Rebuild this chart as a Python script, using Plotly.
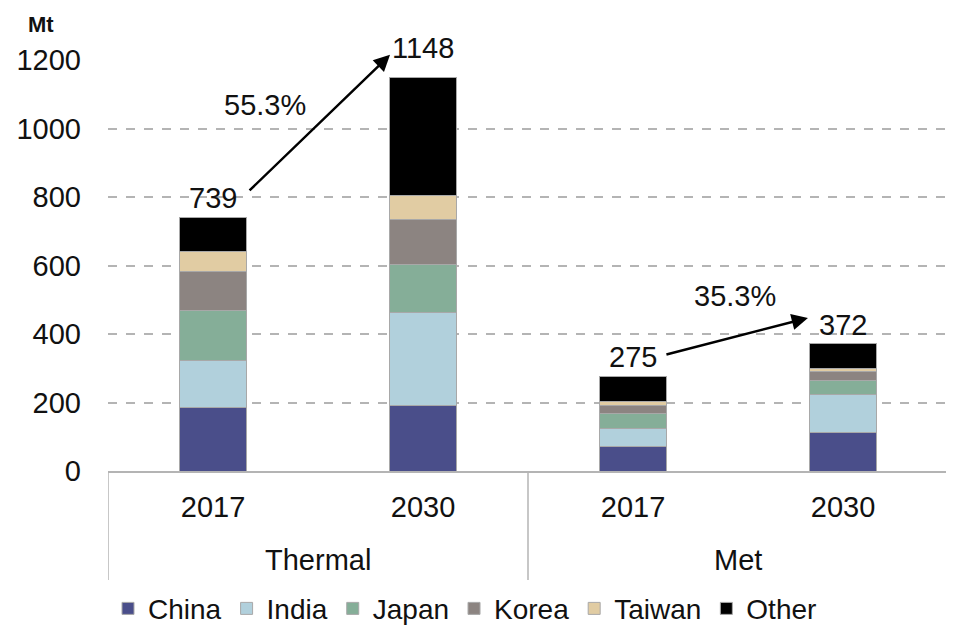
import plotly.graph_objects as go

# ---- data ----
years = ["2017", "2030", "2017", "2030"]
groups = ["Thermal", "Met"]
china = [184, 190, 72, 111]
india = [138, 272, 53, 113]
japan = [146, 140, 44, 40]
korea = [115, 131, 21, 26]
taiwan = [59, 70, 13, 8]
other = [97, 345, 72, 74]
totals = [739, 1148, 275, 372]
growth = ["55.3%", "35.3%"]
y_ticks = [0, 200, 400, 600, 800, 1000, 1200]

series = [
    ("China", china, "#4a4e8a"),
    ("India", india, "#b1d0dc"),
    ("Japan", japan, "#85ae98"),
    ("Korea", korea, "#8c8481"),
    ("Taiwan", taiwan, "#e1cca3"),
    ("Other", other, "#000000"),
]

xpos = list(range(len(years)))
FONT = "Arial, Liberation Sans, sans-serif"

fig = go.Figure()
for name, vals, col in series:
    fig.add_trace(go.Bar(
        x=xpos, y=vals, name=name, width=0.32,
        marker=dict(color=col, line=dict(color="#a8a8a8", width=1)),
    ))

fig.update_layout(
    barmode="stack",
    width=954, height=629,
    margin=dict(l=100, r=14, t=52, b=166, autoexpand=False),
    plot_bgcolor="white", paper_bgcolor="white",
    font=dict(family=FONT, size=29, color="#111111"),
    showlegend=True,
    legend=dict(orientation="h", x=0.0, xanchor="left", y=-0.335, yanchor="middle",
                font=dict(size=28, color="#111111"), itemwidth=30, tracegroupgap=0,
                traceorder="normal", borderwidth=0),
)

fig.update_yaxes(
    range=[0, 1200], tickvals=y_ticks, showgrid=True, gridcolor="#b4b4b4",
    griddash="dash", gridwidth=1.5, zeroline=False, showline=False, automargin=False,
    ticklabelstandoff=26, tickfont=dict(size=29),
)
fig.update_xaxes(
    range=[-0.5, 3.5], tickvals=xpos, ticktext=years, showgrid=False, automargin=False,
    showline=True, linecolor="#b4b4b4", linewidth=1.5, zeroline=False,
    ticks="", ticklabelstandoff=9, tickfont=dict(size=29),
)

# category box lines
for xb in [-0.5, 1.5, 3.5]:
    fig.add_shape(type="line", xref="x", yref="paper", x0=xb, x1=xb, y0=0, y1=-0.265,
                  line=dict(color="#b4b4b4", width=1.5))

# group labels
for gi, g in enumerate(groups):
    fig.add_annotation(x=gi * 2 + 0.5, y=-0.2165, xref="x", yref="paper", text=g,
                       showarrow=False, font=dict(size=29), yanchor="middle")

# totals
shifts = [20, 30, 20, 19]
for i, t in enumerate(totals):
    fig.add_annotation(x=xpos[i], y=t, text=str(t), showarrow=False, yanchor="middle",
                       yshift=shifts[i], font=dict(size=29))

# arrows
arrows = [((0.167, 815), (0.843, 1215)), ((2.152, 339), (2.833, 447))]
for (tx, ty), (hx, hy) in arrows:
    fig.add_annotation(x=hx, y=hy, ax=tx, ay=ty, xref="x", yref="y", axref="x", ayref="y",
                       text="", showarrow=True, arrowhead=2, arrowsize=1.3, arrowwidth=2.5,
                       arrowcolor="#000000")

# growth labels
growth_pos = [(0.248, 1069), (2.486, 511)]
for (gx, gy), txt in zip(growth_pos, growth):
    fig.add_annotation(x=gx, y=gy, text=txt, showarrow=False, font=dict(size=29))

# unit label
fig.add_annotation(x=-0.08, y=1.086, xref="paper", yref="paper", text="<b>Mt</b>",
                   xanchor="center", yanchor="middle", showarrow=False, font=dict(size=22))

fig.write_html("out.html")
